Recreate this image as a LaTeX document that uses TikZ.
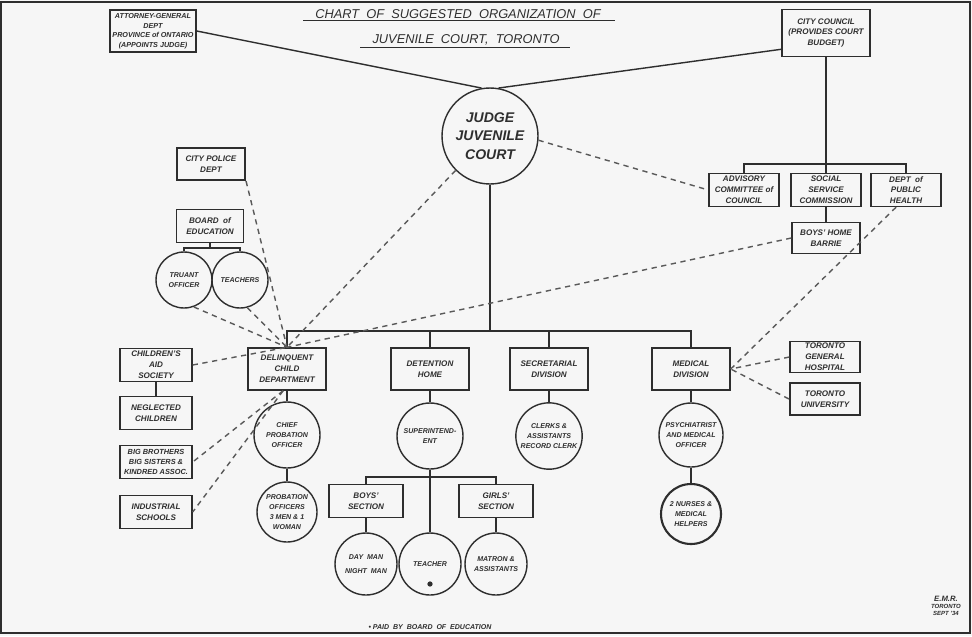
\documentclass[tikz,border=0pt]{standalone}
\usepackage{fontspec}
\setmainfont{Liberation Sans}
\usetikzlibrary{calc}

\definecolor{ink}{gray}{0.18}
\definecolor{paper}{gray}{0.965}
\definecolor{dashink}{gray}{0.35}

\begin{document}
\begin{tikzpicture}[x=0.02cm,y=-0.02cm,inner sep=1pt,
        every node/.style={align=center,text=ink,
            font=\fontsize{4.6}{6.2}\selectfont\bfseries\itshape},
        box/.style={draw=ink,thick,rectangle,minimum width=1.56cm,minimum height=.84cm},
        sbox/.style={draw=ink,thick,rectangle,minimum width=1.4cm,minimum height=.66cm},
        ring/.style={draw=ink,thick,circle,minimum size=1.32cm,
            font=\fontsize{4}{5.6}\selectfont\bfseries\itshape},
        sring/.style={draw=ink,thick,circle,minimum size=1.2cm,
            font=\fontsize{4}{5.6}\selectfont\bfseries\itshape},
        link/.style={draw=dashink,thick,dash pattern=on 3pt off 2.6pt},
        wire/.style={draw=ink,thick}]
        \useasboundingbox (0,0) rectangle (972,636);
        \fill [paper] (0,0) rectangle (972,636);
        \draw [ink,line width=1.4pt] (1,2) rectangle (970,633);
        % title
        \draw node [font=\fontsize{7.3}{9}\selectfont\itshape] (T1) at (458,14)
            {CHART\ \ OF\ \ SUGGESTED\ \ ORGANIZATION\ \ OF};
        \draw node [font=\fontsize{7.3}{9}\selectfont\itshape] (T2) at (466,40)
            {JUVENILE\ \ COURT,\ \ TORONTO};
        \draw [ink,thick] ($ (T1.south west) + (-10,0) $) -- ($ (T1.south east) + (12,0) $);
        \draw [ink,thick] ($ (T2.south west) + (-10,0) $) -- ($ (T2.south east) + (8,0) $);
        % top of the chart
        \draw node [box,minimum width=1.72cm,font=\fontsize{4.1}{5.4}\selectfont\bfseries\itshape]
            (AG) at (153,31) {ATTORNEY-GENERAL\\DEPT\\PROVINCE of ONTARIO\\(APPOINTS JUDGE)};
        \draw node [box,minimum width=1.76cm,minimum height=.94cm] (CC) at (826,33)
            {CITY COUNCIL\\(PROVIDES COURT\\BUDGET)};
        \draw node [draw=ink,thick,circle,minimum size=1.92cm,
            font=\fontsize{8}{10.5}\selectfont\bfseries\itshape] (JC) at (490,136)
            {JUDGE\\JUVENILE\\COURT};
        \draw [wire] (AG.east) -- (JC.100);
        \draw [wire] (CC.200) -- (JC.80);
        % city council side
        \draw node [sbox] (ACC) at (744,190) {ADVISORY\\COMMITTEE of\\COUNCIL};
        \draw node [sbox] (SSC) at (826,190) {SOCIAL\\SERVICE\\COMMISSION};
        \draw node [sbox] (DPH) at (906,190) {DEPT\ \ of\\PUBLIC\\HEALTH};
        \draw node [sbox,minimum width=1.36cm,minimum height=.62cm] (BH) at (826,238)
            {BOYS' HOME\\BARRIE};
        \coordinate (B4) at (826,164);
        \draw [wire] (CC.south) -- (SSC.north);
        \draw [wire] (ACC.north) |- (B4) -| (DPH.north);
        \draw [wire] (SSC.south) -- (BH.north);
        % left side
        \draw node [sbox,very thick,minimum width=1.36cm,minimum height=.64cm] (CPD)
            at (211,164) {CITY POLICE\\DEPT};
        \draw node [sbox,minimum width=1.34cm] (BE) at (210,226) {BOARD\ \ of\\EDUCATION};
        \draw node [sring,minimum size=1.12cm] (TO) at (184,280) {TRUANT\\OFFICER};
        \draw node [sring,minimum size=1.12cm] (TE) at (240,280) {TEACHERS};
        \coordinate (B3) at (210,248);
        \draw [wire] (BE.south) -- (B3);
        \draw [wire] (TO.north) |- (B3) -| (TE.north);
        \draw node [sbox,minimum width=1.44cm] (CAS) at (156,365) {CHILDREN'S\\AID\\SOCIETY};
        \draw node [sbox,minimum width=1.44cm] (NC) at (156,413) {NEGLECTED\\CHILDREN};
        \draw node [sbox,minimum width=1.44cm,font=\fontsize{4.2}{5.8}\selectfont\bfseries\itshape]
            (BB) at (156,462) {BIG BROTHERS\\BIG SISTERS \&\\KINDRED ASSOC.};
        \draw node [sbox,minimum width=1.44cm] (IS) at (156,512) {INDUSTRIAL\\SCHOOLS};
        \draw [wire] (CAS.south) -- (NC.north);
        % main departments
        \draw node [box] (DCD) at (287,369) {DELINQUENT\\CHILD\\DEPARTMENT};
        \draw node [box] (DH) at (430,369) {DETENTION\\HOME};
        \draw node [box] (SD) at (549,369) {SECRETARIAL\\DIVISION};
        \draw node [box] (MD) at (691,369) {MEDICAL\\DIVISION};
        \coordinate (B1) at (490,331);
        \draw [wire] (JC.south) -- (B1);
        \draw [wire] (DCD.north) |- (B1) -| (MD.north);
        \draw [wire] (DH.north) -- (DH.north |- B1);
        \draw [wire] (SD.north) -- (SD.north |- B1);
        \draw node [ring] (CPO) at (287,435) {CHIEF\\PROBATION\\OFFICER};
        \draw node [sring] (PO) at (287,512) {PROBATION\\OFFICERS\\3 MEN \& 1\\WOMAN};
        \draw node [ring] (SUP) at (430,436) {SUPERINTEND-\\ENT};
        \draw node [ring] (CRK) at (549,436) {CLERKS \&\\ASSISTANTS\\RECORD CLERK};
        \draw node [ring,minimum size=1.28cm] (PMO) at (691,435)
            {PSYCHIATRIST\\AND MEDICAL\\OFFICER};
        \draw node [sring,very thick] (NUR) at (691,514) {2 NURSES \&\\MEDICAL\\HELPERS};
        \draw [wire] (DCD.south) -- (CPO.north);
        \draw [wire] (CPO.south) -- (PO.north);
        \draw [wire] (DH.south) -- (SUP.north);
        \draw [wire] (SD.south) -- (CRK.north);
        \draw [wire] (MD.south) -- (PMO.north);
        \draw [wire] (PMO.south) -- (NUR.north);
        % detention home
        \draw node [sbox,minimum width=1.48cm] (BS) at (366,501) {BOYS'\\SECTION};
        \draw node [sbox,minimum width=1.48cm] (GS) at (496,501) {GIRLS'\\SECTION};
        \draw node [sring,minimum size=1.24cm] (DM) at (366,564) {DAY\ \ MAN\\[2pt]NIGHT\ \ MAN};
        \draw node [sring,minimum size=1.24cm] (TCH) at (430,564) {TEACHER};
        \draw node [sring,minimum size=1.24cm] (MA) at (496,564) {MATRON \&\\ASSISTANTS};
        \draw node [circle,fill=ink,inner sep=0pt,minimum size=3pt] (DOT) at (430,584) {};
        \coordinate (B2) at (430,477);
        \draw [wire] (SUP.south) -- (TCH.north);
        \draw [wire] (BS.north) |- (B2) -| (GS.north);
        \draw [wire] (BS.south) -- (DM.north);
        \draw [wire] (GS.south) -- (MA.north);
        % hospitals
        \draw node [sbox,minimum height=.6cm] (TGH) at (825,357) {TORONTO\\GENERAL\\HOSPITAL};
        \draw node [sbox,very thick,minimum height=.64cm] (TU) at (825,399) {TORONTO\\UNIVERSITY};
        % co-operation
        \draw [link] (JC.355) -- (ACC.west);
        \draw [link] (JC.225) -- (DCD.north);
        \draw [link] (BH.west) -- (DCD.north);
        \draw [link] (CPD.south east) -- (DCD.north);
        \draw [link] (TO.290) -- (DCD.north);
        \draw [link] (TE.285) -- (DCD.north);
        \draw [link] (CAS.east) -- (DCD.north);
        \draw [link] (DCD.260) -- (BB.east);
        \draw [link] (DCD.260) -- (IS.east);
        \draw [link] (DPH.240) -- (MD.east);
        \draw [link] (TGH.west) -- (MD.east);
        \draw [link] (TU.west) -- (MD.east);
        % notes
        \draw node [font=\fontsize{4}{5}\selectfont\bfseries\itshape] (NOTE) at (430,627)
            {\textbullet\ PAID\ \ BY\ \ BOARD\ \ OF\ \ EDUCATION};
        \draw node [font=\fontsize{3.4}{4}\selectfont\bfseries\itshape] (SIG) at (946,606)
            {{\fontsize{4.4}{5}\selectfont E.M.R.}\\TORONTO\\SEPT '34};
    \end{tikzpicture}
\end{document}
